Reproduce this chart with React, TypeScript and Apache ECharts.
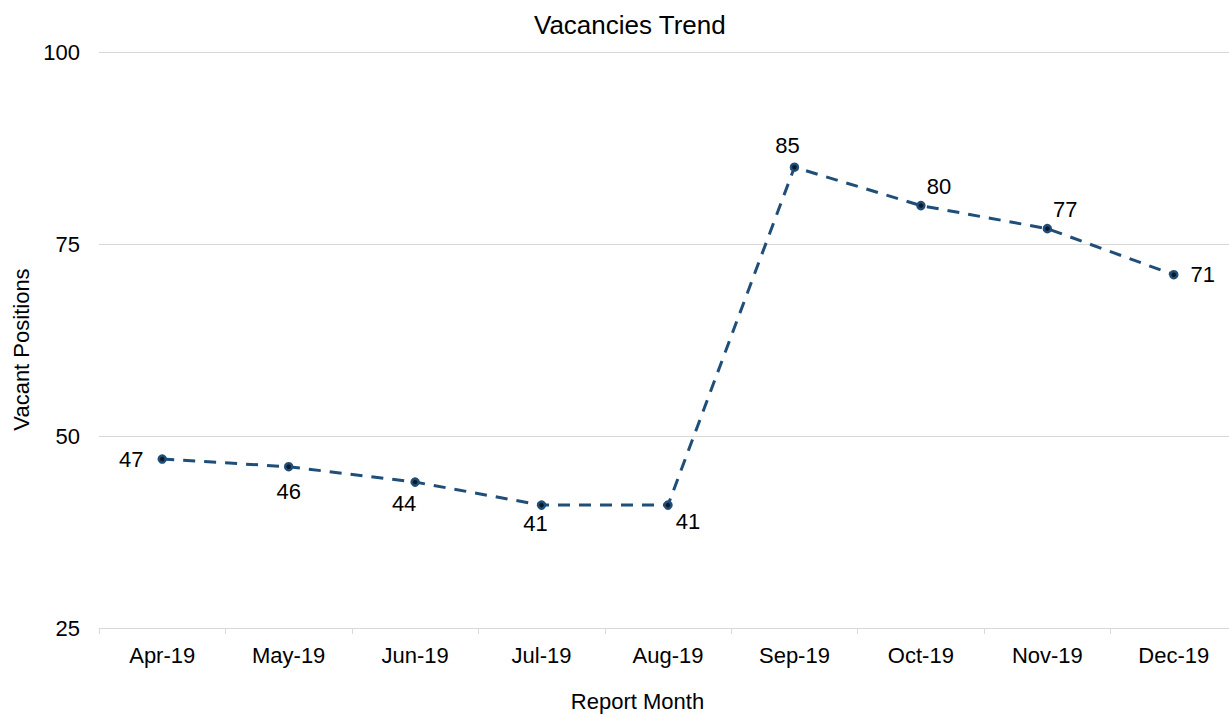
import React, { useEffect, useRef } from "react";
import * as echarts from "echarts";

const months = ["Apr-19", "May-19", "Jun-19", "Jul-19", "Aug-19", "Sep-19", "Oct-19", "Nov-19", "Dec-19"];
const vacancies = [47, 46, 44, 41, 41, 85, 80, 77, 71];
const labelOffsets: [number, number][] = [
  [-31, 0], [0, 25], [-11, 21], [-6, 18], [20, 16], [-7, -22], [18, -19], [18, -19], [29, 0],
];

export default function App() {
  const ref = useRef<HTMLDivElement>(null);
  useEffect(() => {
    document.body.style.margin = "0";
    const chart = echarts.init(ref.current!, null, { renderer: "svg" });
    const font = "'Liberation Sans', Arial, sans-serif";
    chart.setOption({
      animation: false,
      textStyle: { fontFamily: font },
      title: {
        text: "Vacancies Trend",
        left: 529,
        top: 7,
        textStyle: { fontFamily: font, fontSize: 26, fontWeight: "normal", color: "#000" },
      },
      grid: { left: 99, width: 1138, top: 52, height: 576, containLabel: false, outerBoundsMode: "none" },
      xAxis: {
        type: "category",
        data: months,
        name: "Report Month",
        nameLocation: "middle",
        nameGap: 62,
        nameTextStyle: { fontFamily: font, fontSize: 22, color: "#000", padding: [0, 61, 0, 0] },
        axisLine: { lineStyle: { color: "#d9d9d9", width: 1 } },
        axisTick: { show: true, length: 6, lineStyle: { color: "#d9d9d9" } },
        axisLabel: { fontFamily: font, fontSize: 22, color: "#000", margin: 16 },
      },
      yAxis: {
        type: "value",
        min: 25,
        max: 100,
        interval: 25,
        name: "Vacant Positions",
        nameLocation: "middle",
        nameGap: 66,
        nameTextStyle: { fontFamily: font, fontSize: 22, color: "#000", padding: [0, 19, 0, 0] },
        axisLine: { show: false },
        axisTick: { show: false },
        splitLine: { lineStyle: { color: "#d9d9d9", width: 1 } },
        axisLabel: { fontFamily: font, fontSize: 22, color: "#000", margin: 19 },
      },
      series: [
        {
          type: "line",
          data: vacancies.map((v, i) => ({
            value: v,
            label: { offset: labelOffsets[i] },
          })),
          symbol: "circle",
          symbolSize: 7,
          lineStyle: { color: "#1f4e79", width: 3, type: [12, 9] },
          itemStyle: { color: "#0b1a2b", borderColor: "#1f4e79", borderWidth: 2.5 },
          label: {
            show: true,
            position: "inside",
            fontFamily: font,
            fontSize: 22,
            color: "#000",
          },
        },
      ],
    });
    return () => chart.dispose();
  }, []);
  return <div ref={ref} style={{ width: 1229, height: 715 }} />;
}
